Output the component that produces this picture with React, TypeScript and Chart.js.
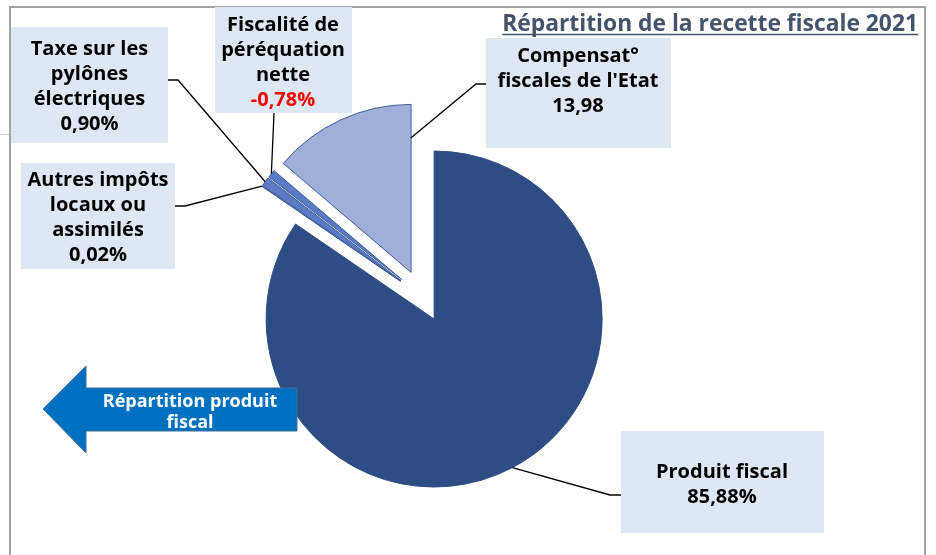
import React, { useEffect, useRef } from "react";
import { Chart, registerables } from "chart.js";

Chart.register(...registerables);

// ---- Data ----
const categories = [
  "Produit fiscal",
  "Autres impôts locaux ou assimilés",
  "Taxe sur les pylônes électriques",
  "Fiscalité de péréquation nette",
  "Compensat° fiscales de l'Etat",
];
const values = [85.88, 0.02, 0.9, -0.78, 13.98];
const valueLabels = ["85,88%", "0,02%", "0,90%", "-0,78%", "13,98"];
const labelLines = [
  ["Produit fiscal"],
  ["Autres impôts", "locaux ou", "assimilés"],
  ["Taxe sur les", "pylônes", "électriques"],
  ["Fiscalité de", "péréquation", "nette"],
  ["Compensat°", "fiscales de l'Etat"],
];
const titleText = "Répartition de la recette fiscale 2021";
const arrowLines = ["Répartition produit", "fiscal"];

// ---- Styles ----
const sliceColors = ["#2E4D85", "#5B7BC6", "#5B7BC6", "#5B7BC6", "#A0AFD9"];
const sliceBorders = ["#2E4D85", "#3A5C9C", "#3A5C9C", "#3A5C9C", "#3F609F"];
const explode = [26, 26, 26, 26, 26];
const valueColors = ["#000000", "#000000", "#000000", "#FF0000", "#000000"];

// label boxes layout (annotation positions)
const boxes = [
  { x: 621, y: 431, w: 203, h: 102, cx: 722, b0: 478, elbow: [610, 495], join: [621, 495], anchor: "mid" },
  { x: 21, y: 163, w: 154, h: 106, cx: 98, b0: 186, elbow: [185, 206], join: [175, 206], anchor: "mid" },
  { x: 11, y: 27, w: 157, h: 116, cx: 89.5, b0: 55, elbow: [178, 80], join: [168, 80], anchor: "mid" },
  { x: 215, y: 7, w: 137, h: 106, cx: 283, b0: 31, elbow: null, join: [274, 113], anchor: "mid" },
  { x: 486, y: 38, w: 185, h: 110, cx: 578, b0: 62, elbow: [476, 84], join: [486, 84], anchor: "end" },
];

const LABEL_FONT = "bold 20px 'Open Sans'";
const LINE_H = 25;

function setFitFont(ctx: CanvasRenderingContext2D, text: string, family: string, target: number) {
  ctx.font = `bold 20px ${family}`;
  const w = ctx.measureText(text).width;
  const size = (20 * target) / w;
  ctx.font = `bold ${size.toFixed(2)}px ${family}`;
}

const decorPlugin = {
  id: "decor",
  beforeDraw(chart: any) {
    const ctx = chart.ctx as CanvasRenderingContext2D;
    ctx.save();
    ctx.fillStyle = "#FFFFFF";
    ctx.fillRect(0, 0, chart.width, chart.height);
    ctx.strokeStyle = "#A3A3A3";
    ctx.lineWidth = 2;
    ctx.beginPath();
    ctx.moveTo(10, 560);
    ctx.lineTo(10, 7);
    ctx.lineTo(925, 7);
    ctx.lineTo(925, 560);
    ctx.stroke();
    ctx.lineWidth = 1;
    ctx.strokeStyle = "#C8C8C8";
    ctx.beginPath();
    ctx.moveTo(0, 134.5);
    ctx.lineTo(9, 134.5);
    ctx.stroke();
    ctx.restore();
  },
  beforeDatasetDraw(chart: any, args: any) {
    const ctx = chart.ctx as CanvasRenderingContext2D;
    const meta = args.meta;
    meta.data.forEach((arc: any, i: number) => {
      const p = arc.getProps(["startAngle", "endAngle"], true);
      const mid = (p.startAngle + p.endAngle) / 2;
      const e = explode[i] || 0;
      ctx.save();
      ctx.translate(Math.cos(mid) * e, Math.sin(mid) * e);
      arc.draw(ctx);
      ctx.restore();
    });
    return false;
  },
  afterDraw(chart: any) {
    const ctx = chart.ctx as CanvasRenderingContext2D;
    const meta = chart.getDatasetMeta(0);
    ctx.save();

    // leader lines
    ctx.strokeStyle = "#000000";
    ctx.lineWidth = 1.3;
    boxes.forEach((b, i) => {
      const arc = meta.data[i];
      const p = arc.getProps(["x", "y", "startAngle", "endAngle", "outerRadius"], true);
      const mid = (p.startAngle + p.endAngle) / 2;
      const e = explode[i] || 0;
      const vx = p.x + Math.cos(mid) * e;
      const vy = p.y + Math.sin(mid) * e;
      let ax: number, ay: number;
      if (b.anchor === "end") {
        const a = p.endAngle - 0.002;
        ax = vx + Math.cos(a) * p.outerRadius * 0.8;
        ay = vy + Math.sin(a) * p.outerRadius * 0.8;
      } else {
        ax = vx + Math.cos(mid) * p.outerRadius;
        ay = vy + Math.sin(mid) * p.outerRadius;
      }
      ctx.beginPath();
      ctx.moveTo(ax, ay);
      if (b.elbow) ctx.lineTo(b.elbow[0], b.elbow[1]);
      ctx.lineTo(b.join[0], b.join[1]);
      ctx.stroke();
    });

    // boxes + text
    boxes.forEach((b, i) => {
      ctx.fillStyle = "#DEE8F4";
      ctx.fillRect(b.x, b.y, b.w, b.h);
      ctx.font = LABEL_FONT;
      ctx.textAlign = "center";
      ctx.textBaseline = "alphabetic";
      const lines = labelLines[i];
      lines.forEach((t, k) => {
        ctx.fillStyle = "#000000";
        ctx.fillText(t, b.cx, b.b0 + k * LINE_H);
      });
      ctx.fillStyle = valueColors[i];
      ctx.fillText(valueLabels[i], b.cx, b.b0 + lines.length * LINE_H);
    });

    // title
    setFitFont(ctx, titleText, "'Open Sans'", 416);
    ctx.fillStyle = "#44546A";
    ctx.textAlign = "right";
    ctx.textBaseline = "alphabetic";
    ctx.fillText(titleText, 918, 31);
    const tw = ctx.measureText(titleText).width;
    ctx.strokeStyle = "#44546A";
    ctx.lineWidth = 1.5;
    ctx.beginPath();
    ctx.moveTo(918 - tw, 34.5);
    ctx.lineTo(918, 34.5);
    ctx.stroke();

    // arrow
    ctx.beginPath();
    ctx.moveTo(43, 409);
    ctx.lineTo(86, 366);
    ctx.lineTo(86, 388);
    ctx.lineTo(297, 388);
    ctx.lineTo(297, 431);
    ctx.lineTo(86, 431);
    ctx.lineTo(86, 453);
    ctx.closePath();
    ctx.fillStyle = "#0070C0";
    ctx.fill();
    ctx.strokeStyle = "#41719C";
    ctx.lineWidth = 1;
    ctx.stroke();
    ctx.fillStyle = "#FFFFFF";
    ctx.font = "bold 18px 'Open Sans'";
    ctx.textAlign = "center";
    ctx.fillText(arrowLines[0], 190, 407);
    ctx.fillText(arrowLines[1], 190, 428);

    ctx.restore();
  },
};

export default function App() {
  const ref = useRef<HTMLCanvasElement | null>(null);
  useEffect(() => {
    if (!ref.current) return;
    const chart = new Chart(ref.current, {
      type: "pie",
      data: {
        labels: categories,
        datasets: [
          {
            data: values,
            backgroundColor: sliceColors,
            borderColor: sliceBorders,
            borderWidth: 1,
          },
        ],
      },
      options: {
        responsive: false,
        animation: false,
        radius: 168,
        layout: { padding: { left: 0, right: 92, top: 37, bottom: 0 } },
        plugins: {
          legend: { display: false },
          tooltip: { enabled: false },
          title: { display: false },
        },
      } as any,
      plugins: [decorPlugin],
    });
    return () => chart.destroy();
  }, []);
  return (
    <div style={{ position: "fixed", left: 0, top: 0, width: 936, height: 555, background: "#fff" }}>
      <canvas ref={ref} width={936} height={555} style={{ display: "block" }} />
    </div>
  );
}
